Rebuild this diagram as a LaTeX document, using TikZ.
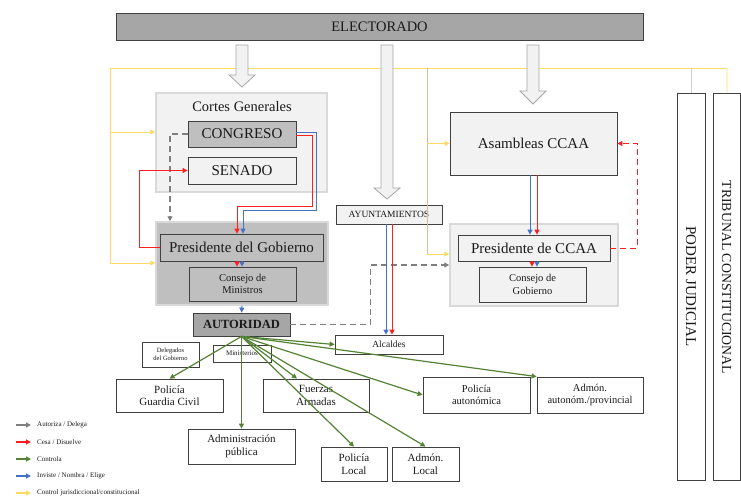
\documentclass[tikz,border=0pt]{standalone}
\usepackage{fontspec}
\setmainfont{Liberation Serif}
\usetikzlibrary{arrows.meta}

\definecolor{rojo}{HTML}{FF1F1F}
\definecolor{azul}{HTML}{4472C4}
\definecolor{verde}{HTML}{548235}
\definecolor{gris}{HTML}{7F7F7F}
\definecolor{amarillo}{HTML}{FFD966}
\definecolor{caqui}{HTML}{D6BF8E}
\definecolor{gristenue}{HTML}{D0CECE}
\definecolor{grisclaro}{HTML}{F2F2F2}
\definecolor{grisborde}{HTML}{D9D9D9}
\definecolor{grismedio}{HTML}{BFBFBF}
\definecolor{grisoscuro}{HTML}{A6A6A6}
\definecolor{borde}{HTML}{404040}
\definecolor{txt}{HTML}{1A1A1A}

\begin{document}
\begin{tikzpicture}[x=1pt, y=-1pt, >={Triangle[length=5pt,width=5pt]},
    box/.style={draw=borde, line width=0.8pt, inner sep=0pt, align=center, text=txt},
    grupo/.style={draw=grisborde, line width=1.5pt, inner sep=0pt},
    cesa/.style={draw=rojo, line width=1pt},
    inv/.style={draw=azul, line width=1pt},
    aut/.style={draw=gris, line width=1.3pt, dash pattern=on 6pt off 4pt},
    ctrl/.style={draw=verde, line width=1.2pt},
    jur/.style={draw=amarillo, line width=0.8pt},
    flecha/.style={fill=grisclaro, draw=grisoscuro, line width=0.8pt},
    leyenda/.style={anchor=west, inner sep=0pt, text=txt, font=\fontsize{7}{8}\selectfont}]
    \useasboundingbox (0,0) rectangle (741,495);

    % control jurisdiccional
    \coordinate (ja) at (110,68);
    \coordinate (jb) at (427,68);
    \coordinate (jc) at (691,68);
    \coordinate (jd) at (727,68);
    \draw[jur] (ja) -- (jd);

    \node[box, fill=grisoscuro, minimum width=527pt, minimum height=27pt, font=\fontsize{14.5}{17}\selectfont] (elect) at (379.5,26.5) {ELECTORADO};

    % flechas del electorado
    \draw[flecha] (236,45) -- (248,45) -- (248,75) -- (255,75) -- (242,87) -- (229,75) -- (236,75) -- cycle;
    \draw[flecha] (381,45) -- (393,45) -- (393,188) -- (400,188) -- (387,199) -- (374,188) -- (381,188) -- cycle;
    \draw[flecha] (527,45) -- (539,45) -- (539,91) -- (546,91) -- (533,104) -- (520,91) -- (527,91) -- cycle;

    % Cortes
    \node[grupo, fill=grisclaro, minimum width=171pt, minimum height=99pt] (cortes) at (241.5,142.5) {};
    \node[text=txt, font=\fontsize{14.5}{17}\selectfont] (cortestit) at (242,107) {Cortes Generales};
    \node[box, fill=grismedio, minimum width=108pt, minimum height=26pt, font=\fontsize{15}{18}\selectfont] (congreso) at (242,134) {CONGRESO};
    \node[box, fill=grisclaro, minimum width=108pt, minimum height=27pt, font=\fontsize{15}{18}\selectfont] (senado) at (242,170.5) {SENADO};

    % Gobierno
    \node[grupo, fill=grismedio, minimum width=172pt, minimum height=83pt] (gob) at (242,263.5) {};
    \node[box, fill=grismedio, minimum width=163pt, minimum height=27pt, font=\fontsize{15}{18}\selectfont] (pgob) at (241.5,247.5) {Presidente del Gobierno};
    \node[box, fill=grismedio, minimum width=107pt, minimum height=34pt, font=\fontsize{10.5}{12.5}\selectfont] (cmin) at (242.5,284) {Consejo de\\Ministros};
    \node[box, fill=grisoscuro, minimum width=97pt, minimum height=23pt, font=\fontsize{12.5}{15}\selectfont\bfseries] (autoridad) at (241.5,324.5) {AUTORIDAD};

    % municipios
    \node[box, fill=grisclaro, minimum width=106pt, minimum height=19pt, font=\fontsize{9.5}{11}\selectfont] (ayunt) at (389,214.5) {AYUNTAMIENTOS};
    \node[box, fill=white, minimum width=108pt, minimum height=19pt, font=\fontsize{9.5}{11}\selectfont] (alcaldes) at (389,344.5) {Alcaldes};

    % CCAA
    \node[box, fill=grisclaro, minimum width=167pt, minimum height=63pt, font=\fontsize{15}{18}\selectfont] (asamb) at (533.5,143.5) {Asambleas CCAA};
    \node[grupo, fill=grisclaro, minimum width=168pt, minimum height=82pt] (ccaa) at (534,265) {};
    \node[box, fill=grisclaro, minimum width=152pt, minimum height=26pt, font=\fontsize{15}{18}\selectfont] (pccaa) at (534,248) {Presidente de CCAA};
    \node[box, fill=grisclaro, minimum width=107pt, minimum height=35pt, font=\fontsize{10.5}{12.5}\selectfont] (cgob) at (532.5,284.5) {Consejo de\\Gobierno};

    % poderes
    \node[box, fill=white, rotate=-90, minimum width=387pt, minimum height=28pt, font=\fontsize{15}{17}\selectfont] (poder) at (691,286.5) {PODER JUDICIAL};
    \node[box, fill=white, rotate=-90, minimum width=387pt, minimum height=27pt, font=\fontsize{13.8}{16}\selectfont] (tribunal) at (726.5,286.5) {TRIBUNAL CONSTITUCIONAL\hspace{18pt}};

    % controlados
    \node[box, minimum width=57pt, minimum height=25pt, font=\fontsize{6.5}{7.5}\selectfont] (delegados) at (170.5,354.5) {Delegados\\del Gobierno};
    \node[box, minimum width=58pt, minimum height=17pt, font=\fontsize{7}{8}\selectfont] (ministerios) at (242,353.5) {Ministerios};
    \node[box, minimum width=107pt, minimum height=33pt, font=\fontsize{11}{12.5}\selectfont] (guardia) at (169.5,395.5) {Policía\\Guardia Civil};
    \node[box, minimum width=106pt, minimum height=33pt, font=\fontsize{11}{12.5}\selectfont] (fuerzas) at (316,395.5) {Fuerzas\\Armadas};
    \node[box, minimum width=107pt, minimum height=35pt, font=\fontsize{11}{12.5}\selectfont] (adminpub) at (241.5,446.5) {Administración\\pública};
    \node[box, minimum width=66pt, minimum height=34pt, font=\fontsize{11}{12.5}\selectfont] (pollocal) at (354,464) {Policía\\Local};
    \node[box, minimum width=67pt, minimum height=34pt, font=\fontsize{11}{12.5}\selectfont] (admlocal) at (425.5,464) {Admón.\\Local};
    \node[box, minimum width=107pt, minimum height=36pt, font=\fontsize{10.5}{12.5}\selectfont] (polaut) at (476.5,395) {Policía\\autonómica};
    \node[box, minimum width=106pt, minimum height=36pt, font=\fontsize{10.5}{12.5}\selectfont] (admaut) at (590,395) {Admón.\\autonóm./provincial};

    % control jurisdiccional
    \draw[jur,->] (ja) |- (gob.west |- 0,263);
    \draw[jur,->] (ja |- 0,132) -- (cortes.west |- 0,132);
    \draw[caqui, line width=0.8pt] (jb) -- (jb |- 0,254);
    \draw[jur,->] (jb |- asamb.west) -- (asamb.west);
    \draw[jur,->] (jb |- 0,254) -- (ccaa.west |- 0,254);
    \draw[gristenue, line width=0.8pt] (jc) -- (poder);
    \draw[jur] (jd) -- (tribunal);

    % autoriza / delega
    \draw[aut,->] (congreso.west) -| (gob.north -| 170,0);
    \draw[aut,->] (autoridad.east) -- ++(80,0) |- (ccaa.west);

    % cesa / disuelve e inviste / nombra
    \draw[inv,->] ([yshift=1.5pt]congreso.east) -| (316,210) -| ([xshift=1.5pt]pgob.north);
    \draw[cesa,->] ([yshift=-1.5pt]congreso.east) -| (312,206) -| ([xshift=-4.5pt]pgob.north);
    \draw[cesa,->] (pgob.west) -- ++(-20,0) |- (senado.west);
    \draw[cesa,->] ([xshift=-4.5pt]pgob.south) -- ([xshift=-5.5pt]cmin.north);
    \draw[inv,->] ([xshift=0.5pt]pgob.south) -- ([xshift=-0.5pt]cmin.north);
    \draw[inv,->] (gob.south) -- (autoridad.north);
    \draw[inv,->] ([xshift=-3pt]ayunt.south) -- ([xshift=-3pt]alcaldes.north);
    \draw[cesa,->] ([xshift=3pt]ayunt.south) -- ([xshift=3pt]alcaldes.north);
    \draw[inv,->] ([xshift=-3.5pt]asamb.south) -- ([xshift=-4pt]pccaa.north);
    \draw[cesa,->] ([xshift=3.5pt]asamb.south) -- ([xshift=3pt]pccaa.north);
    \draw[cesa,->] ([xshift=-2pt]pccaa.south) -- ([xshift=-0.5pt]cgob.north);
    \draw[inv,->] ([xshift=3pt]pccaa.south) -- ([xshift=4.5pt]cgob.north);
    \draw[cesa,->, dash pattern=on 6pt off 4pt] (pccaa.east) -- ++(27,0) |- (asamb.east);

    % controla
    \draw[ctrl,->] (autoridad.south) -- (guardia.north);
    \draw[ctrl,->] (autoridad.south) -- (adminpub.north);
    \draw[ctrl,->] (autoridad.south) -- ([xshift=-19pt]fuerzas.north);
    \draw[ctrl,->] (autoridad.south) -- (pollocal.north);
    \draw[ctrl,->] (autoridad.south) -- (admlocal.north);
    \draw[ctrl,->] (autoridad.south) -- (alcaldes.west);
    \draw[ctrl,->] (autoridad.south) -- (polaut.west);
    \draw[ctrl,->] (autoridad.south) -- (admaut.north west);

    % leyenda
    \node[leyenda] (ley1) at (37,425) {Autoriza / Delega};
    \node[leyenda] (ley2) at (37,442) {Cesa / Disuelve};
    \node[leyenda] (ley3) at (37,459) {Controla};
    \node[leyenda] (ley4) at (37,476) {Inviste / Nombra / Elige};
    \node[leyenda] (ley5) at (37,493) {Control jurisdiccional/constitucional};
    \draw[gris, line width=2pt, ->] (16,425) -- ([xshift=-6pt]ley1.west);
    \draw[rojo, line width=2pt, ->] (16,442) -- ([xshift=-6pt]ley2.west);
    \draw[verde, line width=2pt, ->] (16,459) -- ([xshift=-6pt]ley3.west);
    \draw[azul, line width=2pt, ->] (16,476) -- ([xshift=-6pt]ley4.west);
    \draw[amarillo, line width=2pt, ->] (16,493) -- ([xshift=-6pt]ley5.west);
\end{tikzpicture}
\end{document}
